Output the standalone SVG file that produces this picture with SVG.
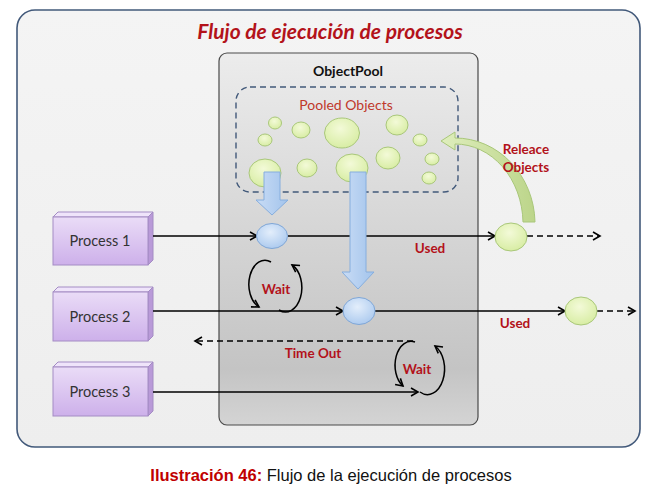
<svg xmlns="http://www.w3.org/2000/svg" width="652" height="489" viewBox="0 0 652 489">
<defs>
<linearGradient id="frameG" x1="0" y1="0" x2="0" y2="1"><stop offset="0" stop-color="#f4f4f4"/><stop offset="1" stop-color="#eeeeee"/></linearGradient>
<linearGradient id="poolG" x1="0" y1="0" x2="0" y2="1"><stop offset="0" stop-color="#ececec"/><stop offset="0.85" stop-color="#c4c4c4"/><stop offset="1" stop-color="#d4d4d4"/></linearGradient>
<linearGradient id="procG" x1="0" y1="0" x2="0" y2="1"><stop offset="0" stop-color="#eadcf7"/><stop offset="1" stop-color="#cdb0ea"/></linearGradient>
<radialGradient id="greenG" cx="0.45" cy="0.35" r="0.7"><stop offset="0" stop-color="#f3fad8"/><stop offset="1" stop-color="#d6eca0"/></radialGradient>
<radialGradient id="blueG" cx="0.45" cy="0.35" r="0.7"><stop offset="0" stop-color="#e3eefb"/><stop offset="1" stop-color="#a9c8ee"/></radialGradient>
<linearGradient id="barG" x1="0" y1="0" x2="1" y2="0"><stop offset="0" stop-color="#c9dcf5"/><stop offset="1" stop-color="#a3c4ec"/></linearGradient>
<linearGradient id="relG" x1="0" y1="0" x2="1" y2="0"><stop offset="0" stop-color="#dfeebd"/><stop offset="1" stop-color="#bcd58a"/></linearGradient>
<marker id="arr" markerWidth="10" markerHeight="10" refX="8" refY="5" orient="auto" markerUnits="userSpaceOnUse"><path d="M1,1 L8,5 L1,9" fill="none" stroke="#000" stroke-width="1.6"/></marker>
</defs>
<style>
.lbl{font-family:Lato,"Liberation Sans",sans-serif;font-weight:bold;fill:#b3121a;font-size:13.5px;text-anchor:middle}
.ptxt{font-family:Lato,"Liberation Sans",sans-serif;fill:#333;font-size:14.5px;text-anchor:middle}
.ln{fill:none;stroke:#000;stroke-width:1.5}
.dash{stroke-dasharray:6 4}
.grn{fill:url(#greenG);stroke:#a9c77a;stroke-width:1}
.blu{fill:url(#blueG);stroke:#7fa6d6;stroke-width:1}
.bar{fill:url(#barG);stroke:#86aede;stroke-width:1}
.front{fill:url(#procG);stroke:#a48cc4;stroke-width:1}
.top{fill:#efe4fa;stroke:#a48cc4;stroke-width:1}
.side{fill:#b99ad8;stroke:#a48cc4;stroke-width:1}
</style>
<rect x="0" y="0" width="652" height="489" fill="#fff"/>
<rect id="frame" x="17" y="10" width="623" height="437" rx="18" fill="url(#frameG)" stroke="#42597a" stroke-width="1.6"/>
<text x="330" y="39" font-family="Lato,'Liberation Sans',sans-serif" font-size="21" font-weight="bold" font-style="italic" fill="#b3121a" text-anchor="middle">Flujo de ejecución de procesos</text>

<g id="objectpool">
<rect x="219" y="53" width="259" height="372" rx="8" fill="url(#poolG)" stroke="#4a4a4a" stroke-width="1.2"/>
<text x="348" y="76" font-family="Lato,'Liberation Sans',sans-serif" font-size="14" font-weight="bold" fill="#111" text-anchor="middle">ObjectPool</text>
</g>

<g id="pooled">
<rect x="236" y="87" width="222" height="105" rx="14" fill="none" stroke="#42597a" stroke-width="1.4" stroke-dasharray="6 4"/>
<text x="346" y="110" font-family="Lato,'Liberation Sans',sans-serif" font-size="14" fill="#c0392b" text-anchor="middle">Pooled Objects</text>
<ellipse class="grn" cx="275" cy="123" rx="6.5" ry="6"/>
<ellipse class="grn" cx="301" cy="130" rx="9" ry="8"/>
<ellipse class="grn" cx="342" cy="133" rx="17.5" ry="15"/>
<ellipse class="grn" cx="397" cy="125" rx="11" ry="10"/>
<ellipse class="grn" cx="265" cy="140" rx="7" ry="6"/>
<ellipse class="grn" cx="420" cy="140" rx="7" ry="6"/>
<ellipse class="grn" cx="265" cy="173" rx="16" ry="14"/>
<ellipse class="grn" cx="307" cy="168" rx="10" ry="9"/>
<ellipse class="grn" cx="352" cy="168" rx="16" ry="14"/>
<ellipse class="grn" cx="388" cy="158" rx="12" ry="11"/>
<ellipse class="grn" cx="432" cy="159" rx="7" ry="6"/>
<ellipse class="grn" cx="429" cy="178" rx="7" ry="6"/>
</g>

<g id="process1">
<polygon class="top" points="53,217 58,212 153,212 148,217"/>
<polygon class="side" points="148,217 153,212 153,260 148,265"/>
<rect class="front" x="53" y="217" width="95" height="48"/>
<text class="ptxt" x="100" y="246">Process 1</text>
</g>
<g id="process2">
<polygon class="top" points="53,292 58,287 153,287 148,292"/>
<polygon class="side" points="148,292 153,287 153,336 148,341"/>
<rect class="front" x="53" y="292" width="95" height="49"/>
<text class="ptxt" x="100" y="322">Process 2</text>
</g>
<g id="process3">
<polygon class="top" points="53,367 58,362 153,362 148,367"/>
<polygon class="side" points="148,367 153,362 153,411 148,416"/>
<rect class="front" x="53" y="367" width="95" height="49"/>
<text class="ptxt" x="100" y="397">Process 3</text>
</g>

<g id="connectors">
<path class="ln" d="M153 236 L257 236" marker-end="url(#arr)"/>
<path class="ln" d="M288 236 L495 236" marker-end="url(#arr)"/>
<path class="ln dash" d="M527 236 L600 236" marker-end="url(#arr)"/>
<path class="ln" d="M153 311 L343 311" marker-end="url(#arr)"/>
<path class="ln" d="M375 311 L565 311" marker-end="url(#arr)"/>
<path class="ln dash" d="M597 311 L635 311" marker-end="url(#arr)"/>
<path class="ln" d="M153 392 L418 392" marker-end="url(#arr)"/>
<path class="ln dash" d="M413 341 L195 341" marker-end="url(#arr)"/>
<path class="ln" d="M271 262 A16 24 0 0 0 259 307" marker-end="url(#arr)"/>
<path class="ln" d="M279 310 A16 24 0 0 0 292 265" marker-end="url(#arr)"/>
<path class="ln" d="M415 342 A16 24 0 0 0 403 386" marker-end="url(#arr)"/>
<path class="ln" d="M420 392 A16 24 0 0 0 435 346" marker-end="url(#arr)"/>
</g>

<g id="bars">
<path class="bar" d="M264 172 L280 172 L280 200 L288 200 L272 215 L256 200 L264 200 Z"/>
<path class="bar" d="M350 172 L366 172 L366 272 L374 272 L358 289 L342 272 L350 272 Z"/>
</g>

<g id="used-objects">
<ellipse class="blu" cx="272" cy="236" rx="15.5" ry="12.5"/>
<ellipse class="blu" cx="359" cy="311" rx="16" ry="13.5"/>
<ellipse class="grn" cx="511" cy="237" rx="16" ry="14"/>
<ellipse class="grn" cx="581" cy="311" rx="16" ry="14"/>
</g>

<g id="release">
<path d="M523 222 A68 80 0 0 0 455 144 L455 150 L441 141 L455 132 L455 138 A80 86 0 0 1 535 222 Z" fill="url(#relG)" stroke="#a9c77a" stroke-width="1"/>
</g>

<g id="labels">
<text class="lbl" x="526" y="154">Releace</text>
<text class="lbl" x="526" y="172">Objects</text>
<text class="lbl" x="430" y="253">Used</text>
<text class="lbl" x="515" y="328">Used</text>
<text class="lbl" x="276" y="294">Wait</text>
<text class="lbl" x="417" y="374">Wait</text>
<text class="lbl" x="313" y="358">Time Out</text>
</g>

<text x="331" y="481" font-family="'Liberation Sans',Arial,sans-serif" font-size="16.5" text-anchor="middle"><tspan font-weight="bold" fill="#c00000">Ilustración 46:</tspan><tspan fill="#111"> Flujo de la ejecución de procesos</tspan></text>
</svg>
